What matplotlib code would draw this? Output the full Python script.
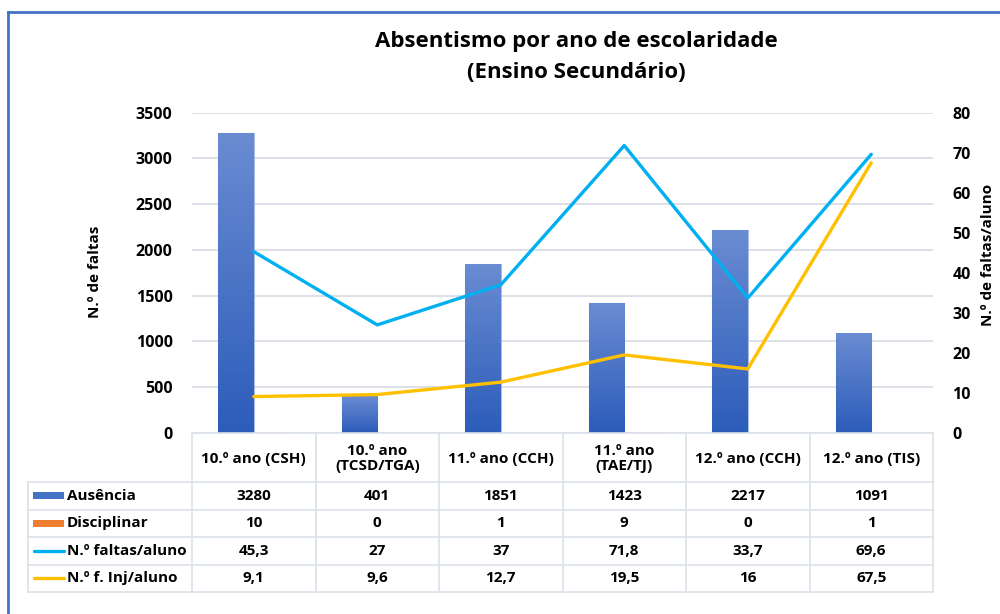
import matplotlib
matplotlib.use("Agg")
import matplotlib.pyplot as plt
import matplotlib.transforms as mtransforms
from matplotlib.lines import Line2D
from matplotlib.patches import Rectangle
import numpy as np

plt.rcParams['font.family'] = ['Open Sans', 'DejaVu Sans']
plt.rcParams['font.weight'] = 'bold'

categories = ["10.º ano (CSH)", "10.º ano\n(TCSD/TGA)", "11.º ano (CCH)", "11.º ano\n(TAE/TJ)",
              "12.º ano (CCH)", "12.º ano (TIS)"]
ausencia = [3280, 401, 1851, 1423, 2217, 1091]
disciplinar = [10, 0, 1, 9, 0, 1]
faltas_aluno = [45.3, 27, 37, 71.8, 33.7, 69.6]
f_inj_aluno = [9.1, 9.6, 12.7, 19.5, 16, 67.5]

series_names = ["Ausência", "Disciplinar", "N.º faltas/aluno", "N.º f. Inj/aluno"]
series_labels = [
    ["3280", "401", "1851", "1423", "2217", "1091"],
    ["10", "0", "1", "9", "0", "1"],
    ["45,3", "27", "37", "71,8", "33,7", "69,6"],
    ["9,1", "9,6", "12,7", "19,5", "16", "67,5"],
]

W, H = 1000, 614
fig = plt.figure(figsize=(10, 6.14), dpi=100)

def fx(px):
    return px / W

def fy(py):
    return 1 - py / H

FS = 11
ax = fig.add_axes([fx(192), fy(433), fx(933) - fx(192), fy(112.7) - fy(433)])
ax2 = ax.twinx()

x = np.arange(len(categories))
bw = 0.288
grid_c = '#D9DEE6'
blue_top = np.array([0x6A, 0x8C, 0xD2]) / 255
blue_bot = np.array([0x2C, 0x5C, 0xBA]) / 255

bars = ax.bar(x - bw / 2, ausencia, width=bw, color='#4472C4', edgecolor='#A9BCE3', linewidth=0.8, zorder=3)
grad = np.linspace(0, 1, 256)[:, None]
cmap = matplotlib.colors.LinearSegmentedColormap.from_list('g', [blue_bot, blue_top])
for b in bars:
    x0, w_, h_ = b.get_x(), b.get_width(), b.get_height()
    im = ax.imshow(grad, extent=[x0, x0 + w_, 0, h_], origin='lower', aspect='auto',
                   cmap=cmap, zorder=3.1)
    im.set_clip_path(b)
ax.bar(x + bw / 2, disciplinar, width=bw, color='#ED7D31', zorder=0.2)

ax.set_xlim(-0.5, len(categories) - 0.5)
ax.set_ylim(0, 3500)
ax.set_yticks(np.arange(0, 3501, 500))
ax.grid(axis='y', color=grid_c, linewidth=1.3, zorder=0.5)
ax.set_axisbelow(True)
ax.set_xticks([])
for s in ax.spines.values():
    s.set_visible(False)
for s in ax2.spines.values():
    s.set_visible(False)
ax.tick_params(axis='y', length=0, pad=14, labelsize=11.5, labelcolor='#000000')

ax2.plot(x, faltas_aluno, color='#00B0F0', linewidth=2.4, solid_capstyle='round', solid_joinstyle='round', zorder=5)
ax2.plot(x, f_inj_aluno, color='#FFC000', linewidth=2.4, solid_capstyle='round', solid_joinstyle='round', zorder=5)
ax2.set_ylim(0, 80)
ax2.set_yticks(np.arange(0, 81, 10))
ax2.tick_params(axis='y', length=0, pad=14, labelsize=11.5, labelcolor='#000000')
ax2.set_xlim(-0.5, len(categories) - 0.5)

fig.text(fx(95), fy(272), "N.º de faltas", rotation=90, ha='center', va='center', fontsize=FS, fontweight='bold')
fig.text(fx(988), fy(255), "N.º de faltas/aluno", rotation=90, ha='center', va='center', fontsize=FS, fontweight='bold')

fig.text(fx(576), fy(42), "Absentismo por ano de escolaridade", ha='center', va='center', fontsize=16, fontweight='bold')
fig.text(fx(576), fy(72), "(Ensino Secundário)", ha='center', va='center', fontsize=16, fontweight='bold')

# Data table
tr = mtransforms.blended_transform_factory(ax.transData, fig.transFigure)
row_y = [433, 482, 509.5, 537, 564.5, 592]
tab_c = '#DCE1EA'
lw = 1.2
edges = np.arange(-0.5, len(categories) + 0.5, 1.0)
for e in edges:
    fig.add_artist(Line2D([e, e], [fy(row_y[0]), fy(row_y[-1])], transform=tr, color=tab_c, linewidth=lw))
fig.add_artist(Line2D([fx(28), fx(28)], [fy(row_y[1]), fy(row_y[-1])], transform=fig.transFigure, color=tab_c, linewidth=lw))
x_end = ax.transData.transform((edges[-1], 0))[0] / W
fig.add_artist(Line2D([fx(192), x_end], [fy(row_y[0])] * 2, transform=fig.transFigure, color=tab_c, linewidth=lw))
for ry in row_y[1:]:
    fig.add_artist(Line2D([fx(28), x_end], [fy(ry)] * 2, transform=fig.transFigure, color=tab_c, linewidth=lw))

for i, c in enumerate(categories):
    fig.text(x[i], fy((row_y[0] + row_y[1]) / 2 + 1), c, transform=tr, ha='center', va='center',
             fontsize=FS, fontweight='bold', linespacing=1.1)

for r, (name, labs) in enumerate(zip(series_names, series_labels)):
    yc = fy((row_y[r + 1] + row_y[r + 2]) / 2)
    if r == 0:
        fig.add_artist(Rectangle((fx(33), yc - 3.5 / H), fx(31), 7 / H, transform=fig.transFigure,
                                 facecolor='#4472C4', edgecolor='none'))
    elif r == 1:
        fig.add_artist(Rectangle((fx(33), yc - 3.5 / H), fx(31), 7 / H, transform=fig.transFigure,
                                 facecolor='#ED7D31', edgecolor='none'))
    else:
        col = '#00B0F0' if r == 2 else '#FFC000'
        fig.add_artist(Line2D([fx(34), fx(64)], [yc, yc], transform=fig.transFigure, color=col,
                              linewidth=2.4, solid_capstyle='round'))
    fig.text(fx(67), yc, name, ha='left', va='center', fontsize=FS, fontweight='bold')
    for i, lab in enumerate(labs):
        fig.text(x[i], yc, lab, transform=tr, ha='center', va='center', fontsize=FS, fontweight='bold')

fig.add_artist(Line2D([fx(8), fx(1000)], [fy(12), fy(12)], transform=fig.transFigure, color='#4472C4', linewidth=2))
fig.add_artist(Line2D([fx(8), fx(8)], [fy(12), fy(614)], transform=fig.transFigure, color='#4472C4', linewidth=2))

fig.savefig("out.png", dpi=100, facecolor='white')
